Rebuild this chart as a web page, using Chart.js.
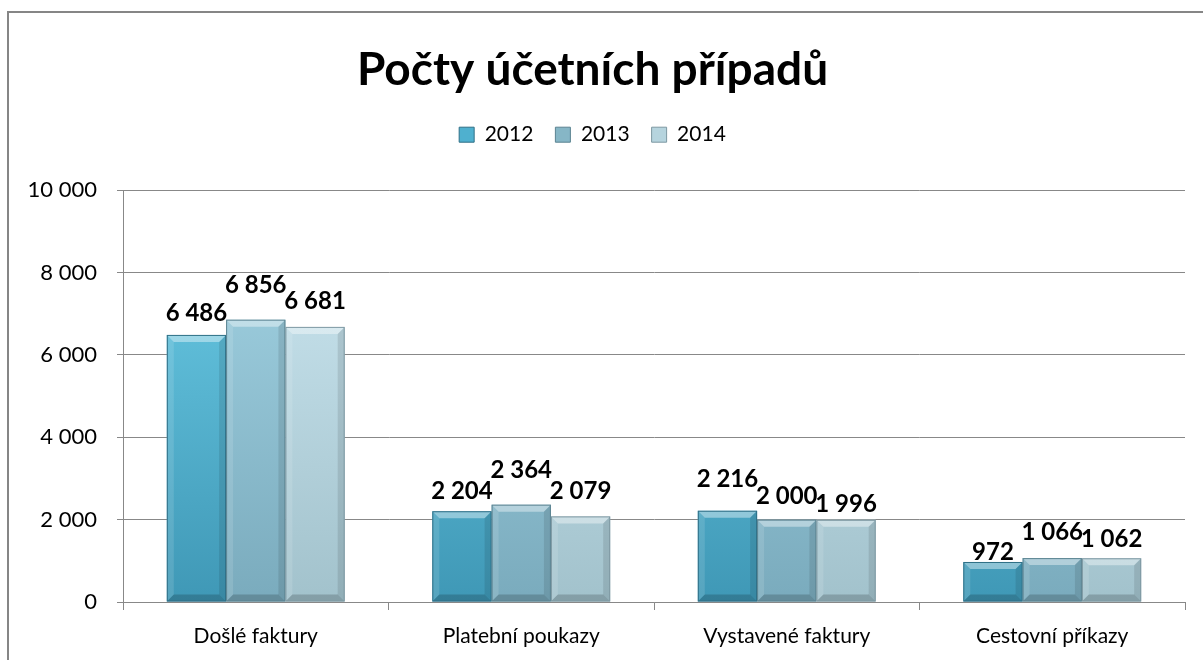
<!DOCTYPE html>
<html>
<head>
<meta charset="utf-8">
<script src="https://cdn.jsdelivr.net/npm/chart.js@4"></script>
<style>
  html, body { margin: 0; padding: 0; background: #fff; }
  #wrap { position: relative; width: 1203px; height: 660px; overflow: hidden; }
  #frame { position: absolute; left: 7px; top: 11px; width: 1300px; height: 800px;
           border-top: 2px solid #868686; border-left: 2px solid #868686; }
  canvas { position: absolute; left: 0; top: 0; }
</style>
</head>
<body>
<div id="wrap">
  <div id="frame"></div>
  <canvas id="chart" width="1203" height="660"></canvas>
</div>
<script>
const categories = ['Došlé faktury', 'Platební poukazy', 'Vystavené faktury', 'Cestovní příkazy'];
const years = ['2012', '2013', '2014'];
const values2012 = [6486, 2204, 2216, 972];
const values2013 = [6856, 2364, 2000, 1066];
const values2014 = [6681, 2079, 1996, 1062];
const yTicks = [0, 2000, 4000, 6000, 8000, 10000];

const fontFamily = "Lato, 'Open Sans', sans-serif";

// spaces as thousand separator
function fmt(v) {
  return String(v).replace(/\B(?=(\d{3})+(?!\d))/g, ' ');
}

// colours per series: light top, dark bottom
const palette = [
  { top: '#6fd0ea', bottom: '#3f98b6', edge: '#2f6f86', legend: '#4fb0cf' },
  { top: '#a6d6e6', bottom: '#7aabbd', edge: '#5b8391', legend: '#86b6c6' },
  { top: '#cfe9f3', bottom: '#a2c2cc', edge: '#7d98a2', legend: '#b6d4de' }
];
// gap (px) between bar top and its label, per series then category;
// Excel staggers overlapping labels, so they are not all equal
const labelGap = [
  [14, 12, 24, 2],
  [27, 27, 16, 18],
  [18, 17, 8, 11]
];

function barFill(i) {
  return function (ctx) {
    const area = ctx.chart.chartArea;
    if (!area) return palette[i].bottom;
    const g = ctx.chart.ctx.createLinearGradient(0, area.top, 0, area.bottom);
    g.addColorStop(0, palette[i].top);
    g.addColorStop(1, palette[i].bottom);
    return g;
  };
}

// bevel edges + value labels on top of bars
const bevelPlugin = {
  id: 'bevel',
  afterDatasetsDraw(chart) {
    const c = chart.ctx;
    chart.data.datasets.forEach((ds, di) => {
      const meta = chart.getDatasetMeta(di);
      meta.data.forEach((bar, i) => {
        const p = bar.getProps(['x', 'y', 'base', 'width'], true);
        const l = p.x - p.width / 2, r = p.x + p.width / 2;
        const t = p.y, b = p.base;
        const w = 7;
        c.save();
        // top facet
        c.fillStyle = 'rgba(255,255,255,0.4)';
        c.beginPath();
        c.moveTo(l, t); c.lineTo(r, t); c.lineTo(r - w, t + w); c.lineTo(l + w, t + w); c.closePath();
        c.fill();
        // left facet
        c.fillStyle = 'rgba(255,255,255,0.12)';
        c.beginPath();
        c.moveTo(l, t); c.lineTo(l + w, t + w); c.lineTo(l + w, b - w); c.lineTo(l, b); c.closePath();
        c.fill();
        // right facet
        c.fillStyle = 'rgba(0,0,0,0.1)';
        c.beginPath();
        c.moveTo(r, t); c.lineTo(r - w, t + w); c.lineTo(r - w, b - w); c.lineTo(r, b); c.closePath();
        c.fill();
        // bottom facet
        c.fillStyle = 'rgba(0,0,0,0.18)';
        c.beginPath();
        c.moveTo(l, b); c.lineTo(l + w, b - w); c.lineTo(r - w, b - w); c.lineTo(r, b); c.closePath();
        c.fill();
        // outline
        c.strokeStyle = palette[di].edge;
        c.lineWidth = 1;
        c.strokeRect(l + 0.5, t + 0.5, p.width - 1, b - t - 1);
        // label
        c.fillStyle = '#000';
        c.font = 'bold 24px ' + fontFamily;
        c.textAlign = 'center';
        c.textBaseline = 'alphabetic';
        c.fillText(fmt(ds.data[i]), p.x, t - labelGap[di][i]);
        c.restore();
      });
    });
  }
};

const datasets = [values2012, values2013, values2014].map((vals, i) => ({
  label: years[i],
  data: vals,
  backgroundColor: barFill(i),
  borderWidth: 0,
  categoryPercentage: 0.67,
  barPercentage: 1.0
}));

new Chart(document.getElementById('chart'), {
  type: 'bar',
  data: { labels: categories, datasets: datasets },
  plugins: [bevelPlugin],
  options: {
    responsive: false,
    animation: false,
    layout: { padding: { left: 0, right: 18, top: 0, bottom: 0 } },
    plugins: {
      title: {
        display: true,
        text: 'Počty účetních případů',
        color: '#000',
        font: { family: fontFamily, size: 46, weight: 'bold' },
        padding: { top: 43, bottom: 4 }
      },
      legend: {
        position: 'top',
        labels: {
          color: '#000',
          font: { family: fontFamily, size: 21 },
          boxWidth: 15,
          boxHeight: 15,
          padding: 22,
          generateLabels(chart) {
            return years.map((y, i) => ({
              text: y,
              fillStyle: palette[i].legend,
              strokeStyle: palette[i].edge,
              lineWidth: 1,
              datasetIndex: i
            }));
          }
        }
      },
      // empty spacer between the legend and the plot area
      subtitle: {
        display: true,
        text: ' ',
        weight: 500,
        font: { size: 10 },
        padding: { top: 12, bottom: 11 }
      },
      tooltip: { enabled: false }
    },
    scales: {
      x: {
        grid: { display: true, drawOnChartArea: false, offset: true, tickLength: 8, color: '#888', tickColor: '#888' },
        border: { color: '#888', width: 1 },
        ticks: { color: '#000', font: { family: fontFamily, size: 21 }, padding: 14 },
        afterFit(scale) { scale.height = 58; }
      },
      y: {
        min: 0,
        max: 10000,
        afterBuildTicks(scale) { scale.ticks = yTicks.map(v => ({ value: v })); },
        grid: { color: '#888', tickLength: 6, tickColor: '#888' },
        border: { color: '#888', width: 1 },
        ticks: {
          color: '#000',
          font: { family: fontFamily, size: 22 },
          padding: 20,
          callback: v => fmt(v)
        },
        afterFit(scale) { scale.width = 123; }
      }
    }
  }
});
</script>
</body>
</html>
